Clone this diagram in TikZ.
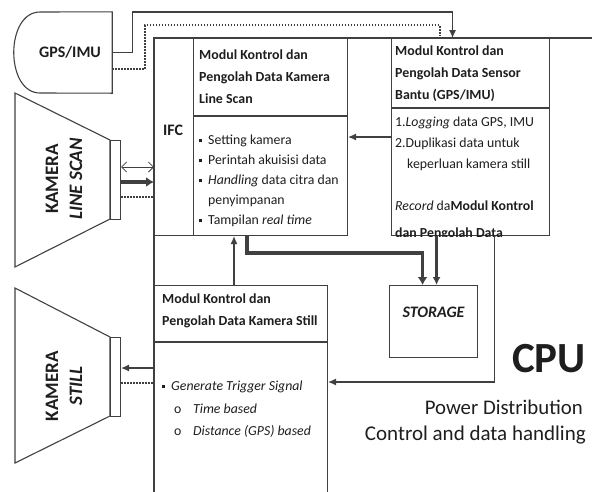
\documentclass[tikz,border=0pt]{standalone}
\usepackage{fontspec}
\setmainfont{Carlito}
\usetikzlibrary{arrows.meta,positioning}
\definecolor{lineInk}{RGB}{64,64,64}
\definecolor{textInk}{RGB}{30,30,30}
\newcommand{\sqbullet}{\makebox[9pt][l]{\rule[2.5pt]{3pt}{3pt}}}
\newcommand{\sqindent}{\makebox[9pt]{}}
\tikzset{
  panel/.style={draw=lineInk, line width=1.1pt, fill=white, anchor=north west, inner sep=0pt},
  headtext/.style={anchor=north west, align=left, inner sep=0pt, text=textInk, font=\bfseries\fontsize{13.9}{22}\selectfont},
  listtext/.style={anchor=north west, align=left, inner sep=0pt, text=textInk, font=\fontsize{13.8}{20}\selectfont},
  camtext/.style={rotate=90, align=center, inner sep=0pt, text=textInk, font=\bfseries\fontsize{19}{24}\selectfont},
  link/.style={draw=lineInk, line width=1.1pt},
  flow/.style={link, -{Latex[length=8pt,width=7pt]}},
  midflow/.style={link, line width=2.2pt, -{Latex[length=8pt,width=8pt]}},
  bigflow/.style={link, line width=3.6pt, -{Latex[length=8pt,width=10pt]}},
  dotlink/.style={link, line width=2pt, dash pattern=on 1.5pt off 1.5pt}
}

\begin{document}
\begin{tikzpicture}[x=1pt, y=-1pt]
  \useasboundingbox (0,0) rectangle (592,491);
  \clip (0,0) rectangle (592,491);
  % CPU frame
  \draw[link] (600,38) -- (154,38) -- (154,500);

  \node[panel, minimum width=39pt, minimum height=197pt] (ifc) at (154,38) {};
  \node[panel, minimum width=154pt, minimum height=197pt] (ls) at (193,38) {};
  \node[panel, minimum width=158pt, minimum height=197pt] (sens) at (391,38) {};
  \node[panel, minimum width=88pt, minimum height=72pt] (stor) at (389,285) {};
  \node[panel, minimum width=173pt, minimum height=230pt] (still) at (154,285) {};
  \draw[link] ([yshift=-78pt]ls.north west) -- ([yshift=-78pt]ls.north east);
  \draw[link] ([yshift=-70pt]sens.north west) -- ([yshift=-70pt]sens.north east);
  \draw[link] ([yshift=-57pt]still.north west) -- ([yshift=-57pt]still.north east);

  \node[text=textInk, font=\bfseries\fontsize{16}{18}\selectfont] (ifcLabel) at (173,130) {IFC};
  \node[text=textInk, font=\bfseries\itshape\fontsize{16}{18}\selectfont] (storLabel) at ([yshift=-27pt]stor.north) {STORAGE};

  \node[headtext] (lsHead) at (199,50) {Modul Kontrol dan\\Pengolah Data Kamera\\Line Scan};
  \node[listtext] (lsList) at (199,135) {\sqbullet Setting kamera\\\sqbullet Perintah akuisisi data\\\sqbullet\textit{Handling} data citra dan\\\sqindent penyimpanan\\\sqbullet Tampilan \textit{real time}};
  \node[headtext] (snHead) at (395,46) {Modul Kontrol dan\\Pengolah Data Sensor\\Bantu (GPS/IMU)};
  \begin{scope}
    \clip (sens.north west) rectangle (sens.south east);
    \node[listtext, font=\fontsize{13.8}{21}\selectfont] (snList) at (395,117) {1.\textit{Logging} data GPS, IMU\\2.Duplikasi data untuk\\\makebox[12pt]{}keperluan kamera still\\[21pt]\textit{Record} da\textbf{Modul Kontrol}\\[6pt]\textbf{dan Pengolah Data}};
  \end{scope}
  \node[headtext] (stHead) at (162,294) {Modul Kontrol dan\\Pengolah Data Kamera Still};
  \node[listtext, font=\itshape\fontsize{13.8}{22.5}\selectfont] (stList) at (162,381) {\sqbullet Generate Trigger Signal\\\makebox[12pt]{}\makebox[19pt][l]{\upshape o}Time based\\\makebox[12pt]{}\makebox[19pt][l]{\upshape o}Distance (GPS) based};

  % cameras
  \draw[link] (15,93) -- (110,140) -- (110,219) -- (15,267) -- cycle;
  \node[panel, minimum width=10pt, minimum height=79pt] (lsLens) at (110,140) {};
  \node[camtext] (lsCam) at (64,179) {KAMERA\\\textit{LINE SCAN}};
  \draw[link] (15,288) -- (110,337) -- (110,416) -- (15,463) -- cycle;
  \node[panel, minimum width=10pt, minimum height=79pt] (stLens) at (110,337) {};
  \node[camtext] (stCam) at (64,386) {KAMERA\\\textit{STILL}};

  % GPS/IMU
  \node[text=textInk, font=\bfseries\fontsize{16}{18}\selectfont, minimum width=84pt, minimum height=81pt, inner sep=0pt] (gps) at (70,52.5) {GPS/IMU};
  \draw[link] (gps.north east) -- (40,12) .. controls (5,12) and (5,93) .. (40,93) -- (gps.south east) -- cycle;

  \draw[flow] (gps.east) -- ++(20,0) |- ([xshift=-18pt,yshift=26pt]sens.north) -- ([xshift=-18pt]sens.north);
  \draw[dotlink] ([yshift=-16pt]gps.east) -- ++(33,0) |- ([xshift=-31pt,yshift=13pt]sens.north) -- ([xshift=-31pt,yshift=2pt]sens.north);

  \draw[link, line width=0.8pt, {Straight Barb[length=5pt,width=10pt]}-{Straight Barb[length=5pt,width=10pt]}] (lsLens.east |- 0,167) -- (ifc.west |- 0,167);
  \draw[bigflow] (lsLens.east |- 0,182) -- (ifc.west |- 0,182);
  \draw[dotlink] (lsLens.east |- 0,197) -- (ifc.west |- 0,197);
  \draw[flow] (still.west |- 0,368) -- (stLens.east |- 0,368);
  \draw[dotlink] (stLens.east |- 0,383) -- (still.west |- 0,383);

  \draw[flow] (sens.west |- 0,137) -- (ls.east |- 0,137);
  \draw[bigflow] (ls.south -| 247,0) -- ++(0,17) -| ([xshift=-11pt]stor.north);
  \draw[midflow] ([xshift=-34pt]sens.south) -- ([xshift=3pt]stor.north);
  \draw[flow] ([xshift=24pt]sens.south) |- (still.east |- 0,382);
  \draw[flow] (still.north -| 234,0) -- (ls.south -| 234,0);

  \node[anchor=base east, inner sep=0pt, text=textInk, font=\bfseries\fontsize{43}{48}\selectfont] (cpuLabel) at (586,372) {CPU};
  \node[anchor=base east, inner sep=0pt, text=textInk, font=\fontsize{20.8}{26}\selectfont] (cpuPower) at (583,414) {Power Distribution};
  \node[anchor=base east, inner sep=0pt, text=textInk, font=\fontsize{21}{26}\selectfont] (cpuData) at (586,440) {Control and data handling};
\end{tikzpicture}
\end{document}
